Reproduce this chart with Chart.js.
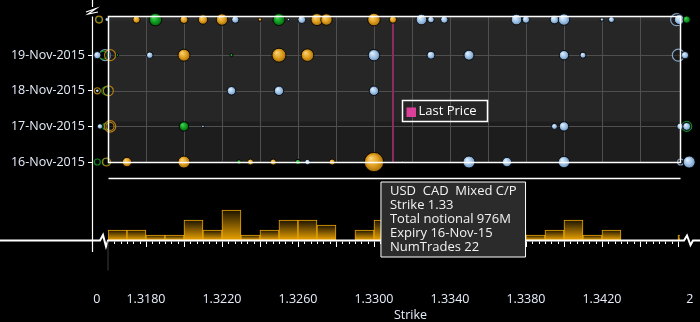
<!DOCTYPE html>
<html>
<head>
<meta charset="utf-8">
<script src="https://cdn.jsdelivr.net/npm/chart.js@4.4.0/dist/chart.umd.min.js"></script>
<style>
  html, body { margin: 0; padding: 0; background: #000; }
  canvas { display: block; }
</style>
</head>
<body>
<canvas id="chart" width="700" height="322"></canvas>
<script>
const FONT = "'Open Sans', 'Noto Sans', sans-serif";
const TEXT = '#e6eefa';

// y rows: 0..3 labelled, row 4 sits past the axis break
const expiryLabels = ['16-Nov-2015', '17-Nov-2015', '18-Nov-2015', '19-Nov-2015'];
const strikeTicks = [1.3180, 1.3220, 1.3260, 1.3300, 1.3340, 1.3380, 1.3420];
const lastPrice = 1.3310;

// bubbles: strike, expiry row, notional (M)
const orangeStrike = [1.3175, 1.3200, 1.3210, 1.3220, 1.3240, 1.3270, 1.3275, 1.3300, 1.3310,
    1.3200, 1.3250, 1.3265,
    1.3170, 1.3200, 1.3235, 1.3247, 1.3278, 1.3300];
const orangeExpiry = [4, 4, 4, 4, 4, 4, 4, 4, 4, 3, 3, 3, 0, 0, 0, 0, 0, 0];
const orangeNotional = [142, 166, 230, 338, 30, 375, 338, 413, 142, 375, 510, 413, 230, 375, 94, 94, 94, 976];

const blueStrike = [1.3227, 1.3255, 1.3262, 1.3325, 1.3330, 1.3337, 1.3375, 1.3380, 1.3395, 1.3400, 1.3420, 1.3425,
    1.3182, 1.3300, 1.3330, 1.3350, 1.3400, 1.3410,
    1.3225, 1.3250, 1.3300,
    1.3210, 1.3395, 1.3400,
    1.3220, 1.3265, 1.3296, 1.3315, 1.3350, 1.3370, 1.3400,
    1.31595, 1.34607, 1.31544, 1.34637, 1.31544, 1.31558, 1.34611, 1.34646, 1.34659];
const blueExpiry = [4, 4, 4, 4, 4, 4, 4, 4, 4, 4, 4, 4,
    3, 3, 3, 3, 3, 3,
    2, 2, 2,
    1, 1, 1,
    0, 0, 0, 0, 0, 0, 0,
    4, 4, 3, 3, 2, 1, 1, 1, 0];
const blueNotional = [142, 15, 166, 292, 113, 142, 292, 142, 192, 338, 30, 94,
    113, 338, 166, 260, 230, 94,
    192, 230, 230,
    18, 94, 230,
    10, 76, 42, 10, 375, 230, 338,
    42, 260, 142, 142, 34, 76, 113, 166, 375];

const greenStrike = [1.3185, 1.3250, 1.3165, 1.3225, 1.3200, 1.3229, 1.3260, 1.34646];
const greenExpiry = [4, 4, 3, 3, 1, 0, 0, 4];
const greenNotional = [413, 375, 15, 23, 230, 55, 76, 142];

// hollow markers in the axis-break zones ("0" and "2")
const orangeRingStrike = [1.31553, 1.31611, 1.31544, 1.31602, 1.31611, 1.31611, 1.31593];
const orangeRingExpiry = [4, 3, 2, 2, 1, 1, 0];
const orangeRingNotional = [127, 315, 94, 260, 338, 166, 166];
const greenRingStrike = [1.31553, 1.31575, 1.31588, 1.31588, 1.31544, 1.31588, 1.34646];
const greenRingExpiry = [4, 3, 2, 1, 0, 0, 1];
const greenRingNotional = [94, 166, 166, 94, 94, 127, 260];
const blueRingStrike = [1.31585, 1.34593, 1.34602, 1.34614];
const blueRingExpiry = [3, 4, 3, 0];
const blueRingNotional = [315, 375, 375, 94];

// strike histogram, buckets of 0.001 from 1.3160
const histStart = 1.3160;
const histStep = 0.001;
const histCounts = [2, 2, 1, 1, 4, 2, 6, 1, 2, 4, 4, 3, 0, 2, 4, 3, 2, 1, 2, 3, 1, 2, 1, 2, 4, 1, 2, 0, 0, 0, 1];

// tooltip point
const tipStrike = 1.3300;
const tipExpiry = 0;
const tipTrades = 22;

// axis layout
const X_MIN = 1.31516, X_MAX = 1.34716;
const PLOT_MIN = 1.3160, PLOT_MAX = 1.3461;
const BREAK_LO = 1.31542, BREAK_HI = 1.34663;
const Y_MIN = -2.19, Y_MAX = 4.1;
const HIST_MAX = 44.8;

const bubbles = (strikes, rows, notional) =>
    strikes.map((s, i) => ({ x: s, y: rows[i], r: Math.sqrt(notional[i]) * 0.31 }));

function sphere(base, light, dark) {
    return (ctx) => {
        if (ctx.type !== 'data') return base;
        const { chart, raw } = ctx;
        const xs = chart.scales.x, ys = chart.scales.y;
        if (!xs || !ys) return base;
        const px = xs.getPixelForValue(raw.x), py = ys.getPixelForValue(raw.y);
        const r = Math.max(raw.r, 1);
        if (!isFinite(px) || !isFinite(py)) return base;
        const g = chart.ctx.createRadialGradient(px - r * 0.35, py - r * 0.4, r * 0.05, px, py, r);
        g.addColorStop(0, light);
        g.addColorStop(0.55, base);
        g.addColorStop(1, dark);
        return g;
    };
}

function barGradient(ctx) {
    if (ctx.type !== 'data') return '#a07000';
    const { chart, raw } = ctx;
    const ys = chart.scales.yh;
    const top = ys.getPixelForValue(raw.y), bottom = ys.getPixelForValue(0);
    if (!(bottom > top)) return '#a07000';
    const g = chart.ctx.createLinearGradient(0, top, 0, bottom);
    g.addColorStop(0, '#1a1200');
    g.addColorStop(1, '#eaa200');
    return g;
}

const ring = (color) => ({
    backgroundColor: 'rgba(10,10,10,0.35)',
    borderColor: color,
    borderWidth: 1.2,
    clip: false
});

const decor = {
    id: 'decor',
    beforeDatasetsDraw(chart) {
        const { ctx, scales: { x, y } } = chart;
        const L = x.getPixelForValue(PLOT_MIN), R = x.getPixelForValue(PLOT_MAX);
        const T = y.getPixelForValue(Y_MAX), B = y.getPixelForValue(0);
        ctx.save();
        ctx.fillStyle = '#262626';
        ctx.fillRect(L, T, R - L, B - T);
        const yb = y.getPixelForValue(1.13);
        ctx.fillStyle = '#1d1d1d';
        ctx.fillRect(L, yb, R - L, B - yb);
        const yt = y.getPixelForValue(3.97);
        ctx.fillStyle = '#2c2c2c';
        ctx.fillRect(L, T, R - L, yt - T);

        ctx.strokeStyle = '#4f4f4f';
        ctx.lineWidth = 1;
        ctx.beginPath();
        for (let k = 1; PLOT_MIN + k * 0.002 < PLOT_MAX - 0.0005; k++) {
            const px = Math.round(x.getPixelForValue(PLOT_MIN + k * 0.002)) + 0.5;
            ctx.moveTo(px, T);
            ctx.lineTo(px, B);
        }
        [1, 2, 3].forEach(row => {
            const py = Math.round(y.getPixelForValue(row)) + 0.5;
            ctx.moveTo(L, py);
            ctx.lineTo(R, py);
        });
        ctx.stroke();

        const lp = x.getPixelForValue(lastPrice);
        ctx.strokeStyle = '#8e2b64';
        ctx.lineWidth = 2;
        ctx.beginPath();
        ctx.moveTo(lp, T);
        ctx.lineTo(lp, B);
        ctx.stroke();
        ctx.restore();
    },
    beforeDatasetDraw(chart, args) {
        if (chart.data.datasets[args.index].type !== 'bar') return;
        const x = chart.scales.x;
        const L = x.getPixelForValue(PLOT_MIN), R = x.getPixelForValue(PLOT_MAX);
        chart.ctx.save();
        chart.ctx.beginPath();
        chart.ctx.rect(L, 0, R - L, chart.height);
        chart.ctx.clip();
    },
    afterDatasetDraw(chart, args) {
        if (chart.data.datasets[args.index].type !== 'bar') return;
        chart.ctx.restore();
    },
    afterDatasetsDraw(chart) {
        const { ctx, scales: { x, y, yh } } = chart;
        const L = Math.round(x.getPixelForValue(PLOT_MIN)) + 0.5;
        const R = Math.round(x.getPixelForValue(PLOT_MAX)) + 0.5;
        const T = Math.round(y.getPixelForValue(Y_MAX)) + 0.5;
        const B = Math.round(y.getPixelForValue(0)) + 0.5;
        const base = yh.getPixelForValue(0);
        const ax = chart.chartArea.left + 0.5;
        ctx.save();
        ctx.strokeStyle = '#ffffff';
        ctx.lineWidth = 1.5;
        ctx.strokeRect(L, T, R - L, B - T);

        // separator above the histogram
        ctx.beginPath();
        ctx.moveTo(L, B + 16);
        ctx.lineTo(R, B + 16);
        ctx.stroke();

        // y axis with its break
        ctx.lineWidth = 1.2;
        ctx.beginPath();
        ctx.moveTo(ax, 0);
        ctx.lineTo(ax, 7);
        ctx.moveTo(86, 12);
        ctx.lineTo(96, 8.5);
        ctx.lineTo(88, 14);
        ctx.lineTo(98, 12);
        ctx.moveTo(ax, T);
        ctx.lineTo(ax, base + 12);
        ctx.stroke();

        // histogram baseline with breaks
        const bl = base + 0.5;
        ctx.lineWidth = 2;
        ctx.beginPath();
        ctx.moveTo(0, bl);
        ctx.lineTo(100, bl);
        ctx.lineTo(103, bl - 5.5);
        ctx.lineTo(106, bl + 6);
        ctx.lineTo(108, bl);
        ctx.lineTo(684, bl);
        ctx.lineTo(687, bl - 5);
        ctx.lineTo(690.5, bl + 4.5);
        ctx.lineTo(693, bl);
        ctx.lineTo(700, bl);
        ctx.stroke();

        // strike ticks under the baseline
        ctx.lineWidth = 1;
        ctx.beginPath();
        const minor = histStep / 3;
        for (let k = 1; PLOT_MIN + k * minor < PLOT_MAX; k++) {
            const px = Math.round(x.getPixelForValue(PLOT_MIN + k * minor)) + 0.5;
            ctx.moveTo(px, bl + 1);
            ctx.lineTo(px, bl + (k % 6 === 0 ? 6.5 : 3.5));
        }
        ctx.stroke();
        ctx.strokeStyle = '#3c3c3c';
        ctx.beginPath();
        ctx.moveTo(L - 0.5, bl + 1);
        ctx.lineTo(L - 0.5, bl + 30);
        ctx.stroke();

        // Last Price legend box
        const lp = x.getPixelForValue(lastPrice);
        const bx = Math.round(lp + 9) + 0.5, by = 100.5;
        ctx.strokeStyle = '#ffffff';
        ctx.lineWidth = 1.5;
        ctx.strokeRect(bx, by, 85, 21);
        ctx.fillStyle = '#dc3f98';
        ctx.fillRect(bx + 4, by + 7, 9.5, 9.5);
        ctx.fillStyle = '#ffffff';
        ctx.font = `13px ${FONT}`;
        ctx.textBaseline = 'middle';
        ctx.fillText('Last Price', bx + 16, by + 11);

        // axis title
        ctx.fillStyle = TEXT;
        ctx.font = `12.5px ${FONT}`;
        ctx.textAlign = 'center';
        ctx.fillText('Strike', (L + R) / 2 + 16, 315);
        ctx.restore();
    }
};

Chart.Tooltip.positioners.pinned = (items) => {
    if (!items.length) return false;
    const el = items[0].element;
    return { x: el.x + 7, y: el.y + 20 };
};

const histData = histCounts.map((c, i) => ({ x: histStart + histStep * (i + 0.5), y: c }));

const chart = new Chart(document.getElementById('chart'), {
    type: 'bubble',
    data: {
        datasets: [{
            label: 'Mixed C/P',
            data: bubbles(orangeStrike, orangeExpiry, orangeNotional),
            backgroundColor: sphere('#e2a222', '#f8d27a', '#a86e08'),
            borderColor: 'rgba(0,0,0,0.85)',
            borderWidth: 1,
            clip: false
        }, {
            label: 'Green',
            data: bubbles(greenStrike, greenExpiry, greenNotional),
            backgroundColor: sphere('#12a024', '#4cd45a', '#06660e'),
            borderColor: 'rgba(0,0,0,0.85)',
            borderWidth: 1,
            clip: false
        }, {
            label: 'Blue',
            data: bubbles(blueStrike, blueExpiry, blueNotional),
            backgroundColor: sphere('#a6c6e6', '#e2f0ff', '#6a94c0'),
            borderColor: 'rgba(0,0,0,0.85)',
            borderWidth: 1,
            clip: false
        }, {
            label: 'Orange ring',
            data: bubbles(orangeRingStrike, orangeRingExpiry, orangeRingNotional),
            ...ring('rgba(200,140,20,0.85)')
        }, {
            label: 'Green ring',
            data: bubbles(greenRingStrike, greenRingExpiry, greenRingNotional),
            ...ring('rgba(20,160,40,0.85)')
        }, {
            label: 'Blue ring',
            data: bubbles(blueRingStrike, blueRingExpiry, blueRingNotional),
            ...ring('rgba(150,185,225,0.85)')
        }, {
            type: 'bar',
            label: 'Trades',
            data: histData,
            xAxisID: 'x',
            yAxisID: 'yh',
            backgroundColor: barGradient,
            borderColor: '#eaa400',
            borderWidth: 1,
            categoryPercentage: 1,
            barPercentage: 1
        }]
    },
    options: {
        responsive: false,
        animation: false,
        events: [],
        layout: { autoPadding: false, padding: { top: 16, left: 0, right: 0, bottom: 0 } },
        plugins: {
            legend: { display: false },
            tooltip: {
                position: 'pinned',
                xAlign: 'left',
                yAlign: 'top',
                caretSize: 0,
                caretPadding: 0,
                cornerRadius: 0,
                backgroundColor: '#2b2b2b',
                borderColor: '#ffffff',
                borderWidth: 1,
                padding: { top: 3, bottom: 3, left: 9, right: 9 },
                displayColors: false,
                bodyColor: '#f2f2f2',
                bodyFont: { family: FONT, size: 13, lineHeight: 1 },
                bodySpacing: 1,
                callbacks: {
                    title: () => '',
                    label: (ctx) => {
                        const i = ctx.dataIndex;
                        const expiry = expiryLabels[ctx.raw.y].replace('-20', '-');
                        return [
                            `USD  CAD  ${ctx.dataset.label}`,
                            `Strike ${+ctx.raw.x.toFixed(4)}`,
                            `Total notional ${orangeNotional[i]}M`,
                            `Expiry ${expiry}`,
                            `NumTrades ${tipTrades}`
                        ];
                    }
                }
            }
        },
        scales: {
            x: {
                type: 'linear',
                min: X_MIN,
                max: X_MAX,
                offset: false,
                afterFit: (s) => { s.height = 82; },
                afterBuildTicks: (s) => {
                    s.ticks = [BREAK_LO, ...strikeTicks, BREAK_HI].map(v => ({ value: v }));
                },
                grid: { display: true, offset: false, drawOnChartArea: false, drawTicks: true, tickLength: 52, color: 'rgba(0,0,0,0)' },
                border: { display: false },
                ticks: {
                    color: TEXT,
                    font: { family: FONT, size: 12.5 },
                    padding: 0,
                    autoSkip: false,
                    maxRotation: 0,
                    callback: (v) => v === BREAK_LO ? '0' : v === BREAK_HI ? '2' : v.toFixed(4)
                }
            },
            y: {
                type: 'linear',
                position: 'left',
                min: Y_MIN,
                max: Y_MAX,
                afterFit: (s) => { s.width = 92; },
                afterBuildTicks: (s) => {
                    s.ticks = expiryLabels.map((_, i) => ({ value: i }));
                },
                grid: { drawOnChartArea: false, drawTicks: true, tickLength: 4, color: '#ffffff' },
                border: { display: false },
                ticks: {
                    color: TEXT,
                    font: { family: FONT, size: 12.5 },
                    padding: 3,
                    autoSkip: false,
                    callback: (v) => expiryLabels[v] || ''
                }
            },
            yh: {
                type: 'linear',
                display: false,
                min: 0,
                max: HIST_MAX
            }
        }
    },
    plugins: [decor]
});

const tipIndex = orangeStrike.findIndex((s, i) => s === tipStrike && orangeExpiry[i] === tipExpiry);
chart.tooltip.setActiveElements([{ datasetIndex: 0, index: tipIndex }], { x: 0, y: 0 });
chart.update();
</script>
</body>
</html>
